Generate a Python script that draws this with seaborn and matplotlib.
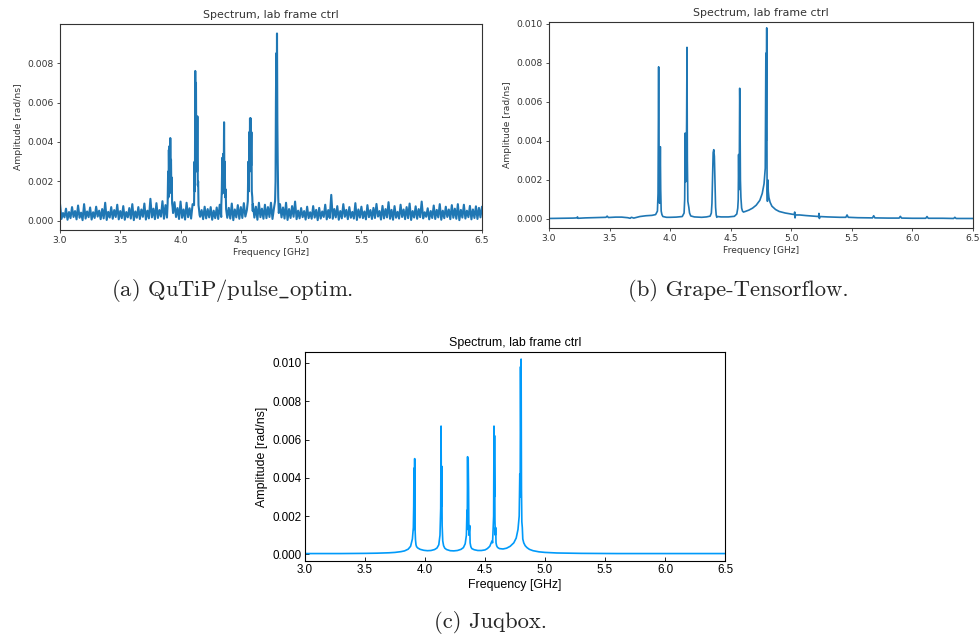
import numpy as np
import pandas as pd
import matplotlib
matplotlib.use("Agg")
import matplotlib.pyplot as plt
import seaborn as sns

# ---------------------------------------------------------------------------
# (a) QuTiP / pulse_optim spectrum: noisy floor plus five peak clusters
# ---------------------------------------------------------------------------
noise_start = 3.0
noise_step = 0.025
# upper tips of the noise floor, one per frequency bin
noise_hi = [
    0.00088, 0.00040, 0.00062, 0.00045, 0.00070, 0.00050, 0.00078, 0.00042, 0.00085, 0.00048,
    0.00068, 0.00044, 0.00072, 0.00052, 0.00060, 0.00092, 0.00046, 0.00070, 0.00055, 0.00082,
    0.00050, 0.00075, 0.00045, 0.00065, 0.00085, 0.00048, 0.00070, 0.00058, 0.00088, 0.00052,
    0.00112, 0.00062, 0.00090, 0.00055, 0.00100, 0.00080, 0.00120, 0.00060, 0.00095, 0.00065,
    0.00098, 0.00058, 0.00092, 0.00064, 0.00085, 0.00070, 0.00080, 0.00055, 0.00072, 0.00060,
    0.00070, 0.00052, 0.00068, 0.00082, 0.00070, 0.00060, 0.00066, 0.00088, 0.00058, 0.00080,
    0.00070, 0.00090, 0.00055, 0.00065, 0.00085, 0.00072, 0.00092, 0.00062, 0.00082, 0.00070,
    0.00092, 0.00065, 0.00075, 0.00085, 0.00068, 0.00092, 0.00060, 0.00075, 0.00098, 0.00052,
    0.00065, 0.00050, 0.00072, 0.00044, 0.00075, 0.00056, 0.00066, 0.00048, 0.00082, 0.00055,
    0.00132, 0.00060, 0.00075, 0.00050, 0.00085, 0.00056, 0.00070, 0.00046, 0.00090, 0.00058,
    0.00072, 0.00048, 0.00080, 0.00055, 0.00066, 0.00086, 0.00050, 0.00076, 0.00060, 0.00095,
    0.00056, 0.00075, 0.00046, 0.00082, 0.00058, 0.00070, 0.00088, 0.00050, 0.00074, 0.00060,
    0.00098, 0.00044, 0.00064, 0.00050, 0.00078, 0.00056, 0.00085, 0.00052, 0.00072, 0.00058,
    0.00080, 0.00062, 0.00085, 0.00056, 0.00082, 0.00052, 0.00076, 0.00058, 0.00074, 0.00066,
    0.00072,
]
# troughs of the noise floor, half a bin after each tip
noise_lo = [
    0.00010, 0.00018, 0.00006, 0.00014, 0.00020, 0.00008, 0.00016, 0.00004, 0.00012, 0.00019,
    0.00007, 0.00015, 0.00022, 0.00009, 0.00013, 0.00005, 0.00017, 0.00011, 0.00020, 0.00008,
    0.00014, 0.00006, 0.00018, 0.00012, 0.00004, 0.00016, 0.00010, 0.00021, 0.00007, 0.00013,
    0.00018, 0.00009, 0.00015, 0.00022, 0.00011, 0.00017, 0.00008, 0.00014, 0.00020, 0.00010,
    0.00016, 0.00007, 0.00019, 0.00012, 0.00005, 0.00015, 0.00021, 0.00009, 0.00013, 0.00018,
    0.00006, 0.00014, 0.00010, 0.00020, 0.00008, 0.00016, 0.00012, 0.00004, 0.00018, 0.00011,
    0.00015, 0.00022, 0.00009, 0.00013, 0.00017, 0.00006, 0.00019, 0.00011, 0.00014, 0.00020,
    0.00010, 0.00016, 0.00008, 0.00018, 0.00012, 0.00005, 0.00015, 0.00021, 0.00009, 0.00013,
    0.00019, 0.00007, 0.00014, 0.00011, 0.00017, 0.00004, 0.00012, 0.00020, 0.00008, 0.00015,
    0.00011, 0.00018, 0.00006, 0.00013, 0.00021, 0.00009, 0.00016, 0.00012, 0.00005, 0.00017,
    0.00014, 0.00008, 0.00019, 0.00010, 0.00015, 0.00022, 0.00007, 0.00013, 0.00018, 0.00011,
    0.00006, 0.00016, 0.00012, 0.00020, 0.00009, 0.00014, 0.00005, 0.00017, 0.00011, 0.00019,
    0.00013, 0.00021, 0.00008, 0.00015, 0.00010, 0.00018, 0.00006, 0.00014, 0.00020, 0.00009,
    0.00016, 0.00011, 0.00004, 0.00017, 0.00012, 0.00019, 0.00008, 0.00015, 0.00010, 0.00018,
]
peak1_freq = [3.893, 3.897, 3.900, 3.903, 3.906, 3.909, 3.912, 3.915, 3.918, 3.921, 3.924, 3.927, 3.930, 3.934, 3.938]
peak1_amp = [0.0009, 0.0025, 0.0012, 0.0036, 0.0020, 0.0038, 0.0022, 0.0042, 0.0026, 0.0031, 0.0014, 0.0022, 0.0009, 0.0007, 0.0004]
peak2_freq = [4.112, 4.116, 4.119, 4.122, 4.125, 4.128, 4.131, 4.134, 4.137, 4.140, 4.143, 4.146, 4.149, 4.153, 4.158]
peak2_amp = [0.0008, 0.0030, 0.0015, 0.0076, 0.0040, 0.0070, 0.0030, 0.0052, 0.0025, 0.0053, 0.0018, 0.0020, 0.0008, 0.0006, 0.0003]
peak3_freq = [4.338, 4.342, 4.346, 4.350, 4.354, 4.358, 4.361, 4.364, 4.367, 4.370, 4.374, 4.378, 4.382]
peak3_amp = [0.0008, 0.0015, 0.0032, 0.0014, 0.0034, 0.0022, 0.0050, 0.0018, 0.0030, 0.0012, 0.0016, 0.0006, 0.0004]
peak4_freq = [4.558, 4.562, 4.566, 4.570, 4.573, 4.576, 4.579, 4.582, 4.585, 4.588, 4.591, 4.595, 4.599]
peak4_amp = [0.0010, 0.0030, 0.0015, 0.0045, 0.0025, 0.0052, 0.0030, 0.0052, 0.0028, 0.0045, 0.0015, 0.0012, 0.0005]
peak5_freq = [4.784, 4.788, 4.791, 4.794, 4.797, 4.800, 4.803, 4.806, 4.810, 4.815]
peak5_amp = [0.0010, 0.0020, 0.0060, 0.0085, 0.0040, 0.0095, 0.0050, 0.0030, 0.0012, 0.0004]

# ---------------------------------------------------------------------------
# (b) Grape-Tensorflow spectrum
# ---------------------------------------------------------------------------
grape_freq = [
    3.00, 3.10, 3.20, 3.23, 3.235, 3.24, 3.30, 3.40, 3.47, 3.48, 3.49, 3.55, 3.60, 3.65, 3.67,
    3.68, 3.70, 3.75, 3.80, 3.85, 3.88, 3.895, 3.900, 3.903, 3.905, 3.907, 3.910, 3.913, 3.916,
    3.919, 3.922, 3.926, 3.932, 3.94, 3.97, 4.00, 4.05, 4.10, 4.115, 4.120, 4.124, 4.128, 4.132,
    4.136, 4.139, 4.142, 4.146, 4.150, 4.154, 4.160, 4.17, 4.20, 4.26, 4.30, 4.33, 4.340, 4.345,
    4.350, 4.355, 4.360, 4.365, 4.370, 4.375, 4.380, 4.385, 4.390, 4.42, 4.48, 4.53, 4.55, 4.558,
    4.562, 4.565, 4.568, 4.571, 4.574, 4.577, 4.580, 4.584, 4.590, 4.597, 4.605, 4.62, 4.65, 4.68,
    4.71, 4.74, 4.76, 4.775, 4.785, 4.790, 4.793, 4.797, 4.800, 4.803, 4.806, 4.810, 4.815, 4.825,
    4.84, 4.87, 4.90, 4.95, 5.00, 5.025, 5.028, 5.031, 5.034, 5.07, 5.12, 5.18, 5.225, 5.228,
    5.232, 5.235, 5.30, 5.40, 5.45, 5.46, 5.47, 5.55, 5.67, 5.68, 5.69, 5.80, 5.89, 5.90, 5.91,
    6.00, 6.11, 6.12, 6.13, 6.25, 6.34, 6.35, 6.36, 6.50,
]
grape_amp = [
    0.00002, 0.00003, 0.00004, 0.00005, 0.00010, 0.00003, 0.00005, 0.00007, 0.00008, 0.00014, 0.00007, 0.00009, 0.00009, 0.00006, 0.00003,
    0.00008, 0.00004, 0.00012, 0.00016, 0.00018, 0.00022, 0.00040, 0.00130, 0.00500, 0.00780, 0.00450, 0.00120, 0.00080, 0.00180,
    0.00370, 0.00150, 0.00040, 0.00022, 0.00012, 0.00008, 0.00008, 0.00009, 0.00012, 0.00030, 0.00100, 0.00440, 0.00190, 0.00220,
    0.00500, 0.00880, 0.00300, 0.00090, 0.00075, 0.00060, 0.00030, 0.00015, 0.00010, 0.00008, 0.00010, 0.00014, 0.00030, 0.00080,
    0.00220, 0.00340, 0.00355, 0.00320, 0.00190, 0.00060, 0.00020, 0.00008, 0.00012, 0.00010, 0.00010, 0.00013, 0.00025, 0.00055,
    0.00100, 0.00330, 0.00150, 0.00280, 0.00670, 0.00500, 0.00200, 0.00110, 0.00055, 0.00040, 0.00035, 0.00038, 0.00045, 0.00055,
    0.00070, 0.00095, 0.00130, 0.00180, 0.00260, 0.00850, 0.00400, 0.00980, 0.00150, 0.00090, 0.00200, 0.00140, 0.00110, 0.00085,
    0.00065, 0.00048, 0.00038, 0.00030, 0.00025, 0.00022, 0.00035, 0.00005, 0.00020, 0.00020, 0.00017, 0.00014, 0.00012, 0.00028,
    0.00002, 0.00012, 0.00010, 0.00008, 0.00008, 0.00020, 0.00008, 0.00006, 0.00005, 0.00016, 0.00005, 0.00004, 0.00004, 0.00013, 0.00004,
    0.00003, 0.00003, 0.00012, 0.00003, 0.00003, 0.00002, 0.00008, 0.00002, 0.00002,
]

# ---------------------------------------------------------------------------
# (c) Juqbox spectrum
# ---------------------------------------------------------------------------
juq_freq = [
    3.00, 3.30, 3.50, 3.60, 3.70, 3.75, 3.80, 3.83, 3.86, 3.88, 3.895, 3.903, 3.906, 3.908,
    3.910, 3.912, 3.914, 3.916, 3.918, 3.921, 3.925, 3.93, 3.94, 3.96, 3.99, 4.02, 4.05, 4.08,
    4.10, 4.115, 4.125, 4.131, 4.134, 4.137, 4.140, 4.143, 4.148, 4.155, 4.165, 4.18, 4.21, 4.24,
    4.27, 4.30, 4.32, 4.335, 4.345, 4.350, 4.352, 4.355, 4.358, 4.360, 4.363, 4.366, 4.370, 4.373,
    4.376, 4.382, 4.39, 4.41, 4.44, 4.47, 4.50, 4.52, 4.54, 4.555, 4.560, 4.563, 4.567, 4.572,
    4.575, 4.578, 4.580, 4.583, 4.586, 4.589, 4.592, 4.597, 4.605, 4.62, 4.65, 4.68, 4.71, 4.74,
    4.76, 4.775, 4.785, 4.790, 4.793, 4.796, 4.799, 4.801, 4.804, 4.807, 4.811, 4.815, 4.823,
    4.835, 4.85, 4.87, 4.90, 4.95, 5.00, 5.10, 5.30, 5.60, 6.00, 6.50,
]
juq_amp = [
    0.00004, 0.00004, 0.00005, 0.00006, 0.00008, 0.00010, 0.00014, 0.00018, 0.00027, 0.00042, 0.00080, 0.00140, 0.00250, 0.00450,
    0.00130, 0.00300, 0.00500, 0.00300, 0.00120, 0.00075, 0.00050, 0.00040, 0.00033, 0.00026, 0.00021, 0.00019, 0.00020, 0.00025,
    0.00033, 0.00050, 0.00100, 0.00240, 0.00670, 0.00250, 0.00460, 0.00150, 0.00070, 0.00045, 0.00032, 0.00025, 0.00019, 0.00018,
    0.00020, 0.00026, 0.00035, 0.00055, 0.00100, 0.00230, 0.00130, 0.00510, 0.00280, 0.00500, 0.00350, 0.00100, 0.00130, 0.00150,
    0.00060, 0.00040, 0.00030, 0.00024, 0.00020, 0.00020, 0.00023, 0.00030, 0.00042, 0.00065, 0.00070, 0.00060, 0.00120, 0.00200,
    0.00670, 0.00300, 0.00620, 0.00180, 0.00100, 0.00140, 0.00060, 0.00045, 0.00036, 0.00030, 0.00028, 0.00032, 0.00042, 0.00060,
    0.00085, 0.00130, 0.00200, 0.00420, 0.00300, 0.00980, 0.00600, 0.01020, 0.00340, 0.00170, 0.00140, 0.00080, 0.00060,
    0.00045, 0.00035, 0.00026, 0.00019, 0.00013, 0.00010, 0.00007, 0.00005, 0.00004, 0.00004, 0.00004,
]

title_text = "Spectrum, lab frame ctrl"
xlabel_text = "Frequency [GHz]"
ylabel_text = "Amplitude [rad/ns]"
captions = ["(a) QuTiP/pulse$\\_$optim.", "(b) Grape-Tensorflow.", "(c) Juqbox."]

# ---------------------------------------------------------------------------
# assemble the noisy spectrum of panel (a)
# ---------------------------------------------------------------------------
peaks_a = [(peak1_freq, peak1_amp), (peak2_freq, peak2_amp), (peak3_freq, peak3_amp),
           (peak4_freq, peak4_amp), (peak5_freq, peak5_amp)]
windows = [(f[0], f[-1]) for f, _ in peaks_a]


def outside_peaks(f):
    return all(not (lo <= f <= hi) for lo, hi in windows)


pts = []
for i, v in enumerate(noise_hi):
    f = noise_start + i * noise_step
    if outside_peaks(f):
        pts.append((f, v))
for i, v in enumerate(noise_lo):
    f = noise_start + (i + 0.5) * noise_step
    if outside_peaks(f):
        pts.append((f, v))
for f_list, a_list in peaks_a:
    pts.extend(zip(f_list, a_list))
pts.sort()
df_a = pd.DataFrame(pts, columns=["freq", "amp"])
df_b = pd.DataFrame({"freq": grape_freq, "amp": grape_amp})
df_c = pd.DataFrame({"freq": juq_freq, "amp": juq_amp})

# ---------------------------------------------------------------------------
# figure
# ---------------------------------------------------------------------------
sns.set_style("ticks")
plt.rcParams["mathtext.fontset"] = "cm"

fig = plt.figure(figsize=(9.8, 6.35), dpi=100)
ax_a = fig.add_axes([0.0612, 0.6378, 0.4306, 0.3244])
ax_b = fig.add_axes([0.5602, 0.6409, 0.4327, 0.3244])
ax_c = fig.add_axes([0.3112, 0.1165, 0.4286, 0.3291])

mpl_blue = "#1f77b4"
for ax, df, ylim, lw in [(ax_a, df_a, (-0.00046, 0.00998), 1.5),
                         (ax_b, df_b, (-0.00047, 0.0101), 1.2)]:
    sns.lineplot(data=df, x="freq", y="amp", ax=ax, color=mpl_blue, linewidth=lw,
                 estimator=None, sort=False)
    ax.set_xlim(3.0, 6.5)
    ax.set_ylim(*ylim)
    ax.set_title(title_text, fontsize=7.9, pad=4, color=".2",
                 family=["DejaVu Sans"])
    ax.set_xlabel(xlabel_text, fontsize=6.6, labelpad=2, color=".2")
    ax.set_ylabel(ylabel_text, fontsize=6.6, labelpad=3, color=".2")
    ax.tick_params(labelsize=6.6, length=2.5, width=0.6, pad=2, colors=".2")
    for s in ax.spines.values():
        s.set_linewidth(0.8)
        s.set_color(".2")

sns.lineplot(data=df_c, x="freq", y="amp", ax=ax_c, color="#009AFA", linewidth=1.2,
             estimator=None, sort=False)
ax_c.set_xlim(3.0, 6.5)
ax_c.set_ylim(-0.00035, 0.01057)
ax_c.set_title(title_text, fontsize=8.9, pad=4, family="Liberation Sans", color="black")
ax_c.set_xlabel(xlabel_text, fontsize=8.9, labelpad=2, family="Liberation Sans", color="black")
ax_c.set_ylabel(ylabel_text, fontsize=8.9, labelpad=3, family="Liberation Sans", color="black")
ax_c.tick_params(labelsize=8.4, length=3, width=0.6, pad=2.5, direction="in", colors="black")
for lab in ax_c.get_xticklabels() + ax_c.get_yticklabels():
    lab.set_family("Liberation Sans")
for s in ax_c.spines.values():
    s.set_linewidth(0.8)
    s.set_color("black")

# sub-figure captions
fig.text(232 / 980, 1 - 290 / 635, captions[0], ha="center", va="center",
         fontsize=16.3, family="cmr10")
fig.text(738 / 980, 1 - 290 / 635, captions[1], ha="center", va="center",
         fontsize=16.3, family="cmr10")
fig.text(490 / 980, 1 - 622 / 635, captions[2], ha="center", va="center",
         fontsize=16.3, family="cmr10")

fig.savefig("out.png", dpi=100, facecolor="white")
